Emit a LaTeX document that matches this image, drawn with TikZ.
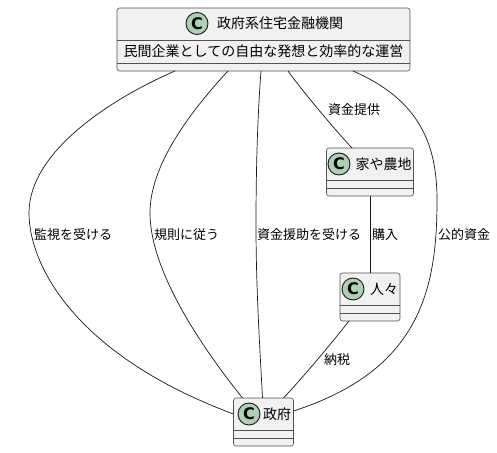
\documentclass[tikz,border=0pt]{standalone}
\usepackage{fontspec}
\newfontfamily\cjk{Noto Sans CJK JP}
\setsansfont{DejaVu Sans}
\usetikzlibrary{calc}
\definecolor{boxfill}{HTML}{F1F1F1}
\definecolor{boxline}{HTML}{181818}
\definecolor{spotfill}{HTML}{ADD1B2}

\begin{document}
\begin{tikzpicture}[
    x=1pt, y=-1pt,
    % clases
    classbox/.style={
        draw=boxline!75, fill=boxfill, line width=0.6pt, rounded corners=2.5pt,
        inner sep=0pt, outer sep=0pt
    },
    spot/.style={
        circle, draw=boxline, fill=spotfill, line width=0.9pt,
        minimum size=22pt, inner sep=0pt,
        font=\sffamily\bfseries\fontsize{16}{16}\selectfont
    },
    title/.style={font=\cjk\fontsize{14}{14}\selectfont, inner sep=0pt},
    member/.style={font=\cjk\fontsize{14}{14}\selectfont, inner sep=0pt},
    sep/.style={draw=boxline!75, line width=0.6pt},
    % flechas
    link/.style={draw=boxline, line width=0.7pt},
    tag/.style={font=\cjk\fontsize{13}{13}\selectfont, inner sep=0pt, anchor=west}
]
    \useasboundingbox (0,0) rectangle (497,452);
    \fill[white] (0,0) rectangle (497,452);

    % --- clases ---
    \node[classbox, minimum width=293pt, minimum height=63pt] (agency) at (263.5,39.5) {};
    \node[spot] (agencyspot) at (197,23.5) {C};
    \node[title, anchor=west] (agencyname) at (217,23.5) {政府系住宅金融機関};
    \node[member] (agencynote) at (263.5,51.5) {民間企業としての自由な発想と効率的な運営};
    \draw[sep] (117,40) -- (410,40);
    \draw[sep] (117,63.5) -- (410,63.5);

    \node[classbox, minimum width=87pt, minimum height=48pt] (land) at (370,172) {};
    \node[spot] (landspot) at (339,164) {C};
    \node[title, anchor=west] (landname) at (355.5,164) {家や農地};
    \draw[sep] (326.5,180.5) -- (413.5,180.5);
    \draw[sep] (326.5,188.5) -- (413.5,188.5);

    \node[classbox, minimum width=60pt, minimum height=48pt] (people) at (370,297) {};
    \node[spot] (peoplespot) at (353,289) {C};
    \node[title, anchor=west] (peoplename) at (370,289) {人々};
    \draw[sep] (340,305.5) -- (400,305.5);
    \draw[sep] (340,313.5) -- (400,313.5);

    \node[classbox, minimum width=60pt, minimum height=48pt] (gov) at (263.5,422) {};
    \node[spot] (govspot) at (249,414) {C};
    \node[title, anchor=west] (govname) at (263,414) {政府};
    \draw[sep] (233.5,430.5) -- (293.5,430.5);
    \draw[sep] (233.5,438.5) -- (293.5,438.5);

    % --- conexiones ---
    \draw[link] ([xshift=58pt]agency.south west) .. controls (115,97) and (29,150) .. (29,213)
        .. controls (29,265) and (75,355) .. ([yshift=8pt]gov.west);
    \draw[link] ([xshift=111pt]agency.south west) .. controls (190,112) and (150,165) .. (150,213)
        .. controls (150,270) and (200,345) .. ([xshift=9pt]gov.north west);
    \draw[link] ([xshift=144pt]agency.south west) .. controls (258,110) and (256,160) .. (256,225)
        .. controls (256,290) and (260,350) .. ([xshift=29pt]gov.north west);
    \draw[link] ([xshift=171pt]agency.south west) .. controls (300,88) and (335,130) .. ([xshift=25.5pt]land.north west);
    \draw[link] ([xshift=-57pt]agency.south east) .. controls (420,100) and (437,145) .. (437,200)
        .. controls (437,290) and (420,370) .. ([yshift=11pt]gov.east);
    \draw[link] (land) -- (people);
    \draw[link] ([xshift=9pt]people.south west) .. controls (330,345) and (305,375) .. ([xshift=-10pt]gov.north east);

    % --- etiquetas ---
    \node[tag] (watchtag) at (34,234.5) {監視を受ける};
    \node[tag] (ruletag) at (154,234.5) {規則に従う};
    \node[tag] (aidtag) at (257,234.5) {資金援助を受ける};
    \node[tag] (fundtag) at (328,109.5) {資金提供};
    \node[tag] (buytag) at (372,234.5) {購入};
    \node[tag] (publictag) at (438,234.5) {公的資金};
    \node[tag] (taxtag) at (324,359.5) {納税};

\end{tikzpicture}
\end{document}
